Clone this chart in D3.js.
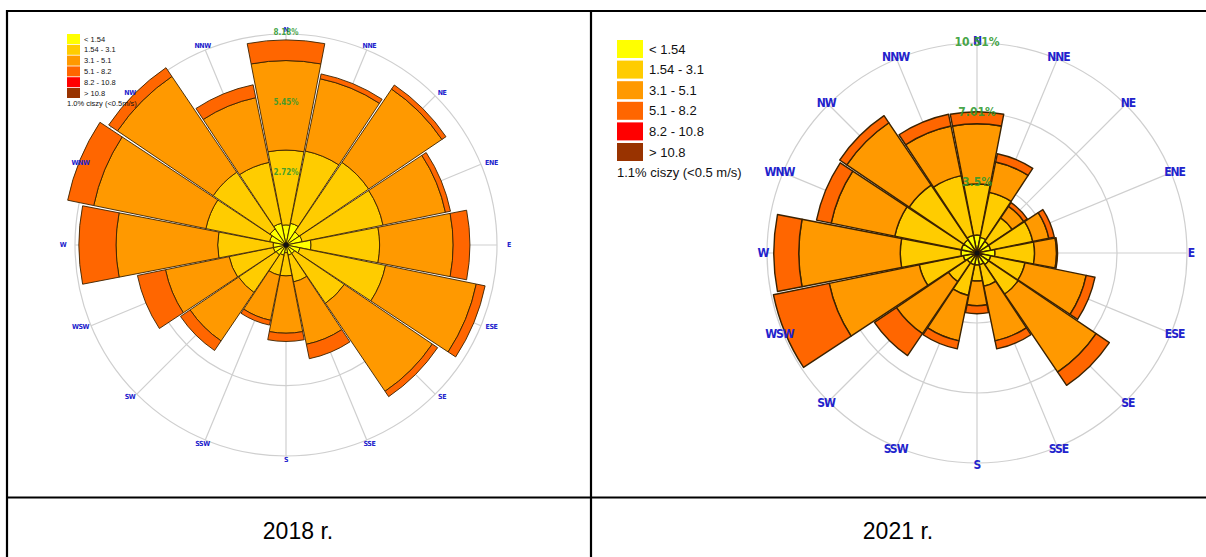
<!DOCTYPE html>
<html>
<head>
<meta charset="utf-8">
<script src="https://cdn.jsdelivr.net/npm/d3@7"></script>
<style>
  body { margin: 0; background: #fff; }
  svg { display: block; }
</style>
</head>
<body>
<svg id="chart" width="1206" height="557"></svg>
<script>
// Wind directions, clockwise from north
const directions = ["N","NNE","NE","ENE","E","ESE","SE","SSE","S","SSW","SW","WSW","W","WNW","NW","NNW"];
// Wind speed classes [m/s]
const speedClasses = ["< 1.54","1.54 - 3.1","3.1 - 5.1","5.1 - 8.2","8.2 - 10.8","> 10.8"];
const classColors = ["#ffff00","#ffcc00","#ff9900","#ff6600","#ff0000","#993300"];

// 2018 — frequency [%] of each speed class per direction
const y2018_lt154  = [0.78,0.86,0.61,0.64,0.97,0.55,0.40,0.40,0.30,0.40,0.46,0.50,0.50,0.65,0.75,0.86];
const y2018_154_31 = [2.90,2.86,3.26,3.20,2.66,3.39,2.33,1.06,0.90,0.80,1.76,1.75,2.15,2.52,2.66,2.41];
const y2018_31_51  = [3.47,2.86,3.43,2.47,2.85,3.59,4.12,2.47,2.22,1.78,2.27,2.52,3.94,4.44,4.48,2.56];
const y2018_51_82  = [0.80,0.19,0.19,0.20,0.65,0.35,0.25,0.57,0.32,0.19,0.45,1.11,1.44,1.03,0.41,0.51];
const y2018_82_108 = [0,0,0,0,0,0,0,0,0,0,0,0,0,0,0,0];
const y2018_gt108  = [0,0,0,0,0,0,0,0,0,0,0,0,0,0,0,0];
const ringValues2018 = [2.727, 5.453, 8.18];
const ringLabels2018 = ["2.72%","5.45%","8.18%"];
const calmLabel2018 = "1.0% ciszy (<0.5m/s)";

// 2021 — frequency [%] of each speed class per direction
const y2021_lt154  = [0.90,0.80,0.70,0.70,0.90,0.70,0.70,0.60,0.60,0.60,0.60,0.70,0.80,0.80,0.80,0.90];
const y2021_154_31 = [2.55,2.30,1.42,2.15,1.98,1.75,1.78,1.10,0.80,1.57,1.13,2.25,3.04,3.40,3.30,3.05];
const y2021_31_51  = [3.02,1.55,0.70,0.82,1.10,3.13,4.72,2.79,1.24,2.32,3.14,4.60,5.08,3.25,3.77,2.54];
const y2021_51_82  = [0.60,0.42,0.22,0.28,0.05,0.45,0.80,0.41,0.40,0.41,1.33,2.85,1.25,0.75,0.43,0.60];
const y2021_82_108 = [0,0,0,0,0,0,0,0,0,0,0,0,0,0,0,0];
const y2021_gt108  = [0,0,0,0,0,0,0,0,0,0,0,0,0,0,0,0];
const ringValues2021 = [3.503, 7.006, 10.51];
const ringLabels2021 = ["3.5%","7.01%","10.51%"];
const calmLabel2021 = "1.1% ciszy (<0.5 m/s)";

const yearLabels = ["2018 r.","2021 r."];

const svg = d3.select("#chart");
svg.append("rect").attr("width",1206).attr("height",557).attr("fill","#fff");

// ---- table frame ----
const frame = svg.append("g").attr("stroke","#000").attr("stroke-width",2.2);
frame.append("line").attr("x1",7).attr("x2",1210).attr("y1",11).attr("y2",11);
frame.append("line").attr("x1",7).attr("x2",7).attr("y1",10).attr("y2",560);
frame.append("line").attr("x1",591).attr("x2",591).attr("y1",10).attr("y2",560);
frame.append("line").attr("x1",7).attr("x2",1210).attr("y1",497.5).attr("y2",497.5);

svg.selectAll("text.year").data(yearLabels).join("text")
  .attr("class","year")
  .attr("x",(d,i)=> i===0 ? 298 : 898)
  .attr("y",531)
  .attr("text-anchor","middle")
  .attr("dominant-baseline","central")
  .attr("font-family","Liberation Sans, Arial, sans-serif")
  .attr("font-size",23)
  .attr("fill","#000")
  .text(d=>d);

function buildTable(cols){
  return directions.map((dir,i)=>{
    const row = {dir};
    speedClasses.forEach((c,k)=>{ row[c] = cols[k][i]; });
    return row;
  });
}

function drawRose(cfg){
  const g = svg.append("g").attr("transform",`translate(${cfg.cx},${cfg.cy})`);
  const rMax = cfg.rings[cfg.rings.length-1];
  const r = d3.scaleLinear().domain([0, rMax]).range([0, cfg.R]);
  const step = 2*Math.PI/directions.length;
  const ang = d3.scaleBand().domain(directions).range([-step/2, 2*Math.PI - step/2]);
  const mid = d => ang(d) + step/2;
  const gap = cfg.gap;

  // grid: rings and spokes
  g.append("g").selectAll("circle").data(cfg.rings).join("circle")
    .attr("r", d=>r(d)).attr("fill","none").attr("stroke","#cfcfcf").attr("stroke-width",1.2);
  g.append("g").selectAll("line").data(directions).join("line")
    .attr("x1",0).attr("y1",0)
    .attr("x2",d=> cfg.R*Math.sin(mid(d)))
    .attr("y2",d=> -cfg.R*Math.cos(mid(d)))
    .attr("stroke","#cfcfcf").attr("stroke-width",1.2);

  // stacked wedges
  const table = buildTable(cfg.cols);
  const series = d3.stack().keys(speedClasses)(table);
  const arc = d3.arc();
  series.forEach((s,k)=>{
    g.append("g").selectAll("path").data(s.filter(d=> d[1]-d[0] > 0)).join("path")
      .attr("d", d=> arc({
        innerRadius: r(d[0]), outerRadius: r(d[1]),
        startAngle: ang(d.data.dir)+gap, endAngle: ang(d.data.dir)+step-gap
      }))
      .attr("fill", classColors[k])
      .attr("stroke","#3b2200").attr("stroke-width",cfg.stroke).attr("stroke-linejoin","round");
  });
  g.append("circle").attr("r",2.5).attr("fill","#111");

  // direction labels
  g.append("g").selectAll("text").data(directions).join("text")
    .attr("x",d=> (cfg.labelR + cfg.labelDx*Math.abs(Math.sin(mid(d))))*Math.sin(mid(d)))
    .attr("y",d=> -cfg.labelR*Math.cos(mid(d)))
    .attr("text-anchor","middle").attr("dominant-baseline","central")
    .attr("font-family","DejaVu Sans Condensed, DejaVu Sans, sans-serif")
    .attr("font-weight","bold").attr("font-size",cfg.dirFont)
    .attr("letter-spacing",cfg.dirSpacing)
    .attr("fill","#2222cc").text(d=>d);

  // ring labels along the north axis
  g.append("g").selectAll("text").data(cfg.rings).join("text")
    .attr("x",0).attr("y",d=> -r(d)+cfg.ringDy)
    .attr("text-anchor","middle").attr("dominant-baseline","central")
    .attr("font-family","DejaVu Sans Condensed, DejaVu Sans, sans-serif")
    .attr("font-weight","bold").attr("font-size",cfg.ringFont)
    .attr("fill","#2f9a2f").attr("fill-opacity",0.9)
    .text((d,i)=>cfg.ringLabels[i]);

  // legend
  const lg = svg.append("g").attr("transform",`translate(${cfg.lx},${cfg.ly})`);
  lg.selectAll("rect").data(speedClasses).join("rect")
    .attr("x",0).attr("y",(d,i)=> i*cfg.lstep)
    .attr("width",cfg.sw).attr("height",cfg.sh)
    .attr("fill",(d,i)=>classColors[i]);
  lg.selectAll("text.cls").data(speedClasses).join("text").attr("class","cls")
    .attr("x",cfg.sw+cfg.tx).attr("y",(d,i)=> i*cfg.lstep + cfg.sh/2)
    .attr("dominant-baseline","central")
    .attr("font-family","Liberation Sans, Arial, sans-serif")
    .attr("font-size",cfg.lfont).attr("fill","#111")
    .text(d=>d);
  lg.append("text")
    .attr("x",0).attr("y",6*cfg.lstep + cfg.sh/2)
    .attr("dominant-baseline","central")
    .attr("font-family","Liberation Sans, Arial, sans-serif")
    .attr("font-size",cfg.lfont).attr("fill","#111")
    .text(cfg.calm);
}

drawRose({
  cx:286, cy:245, R:211, rings:ringValues2018, ringLabels:ringLabels2018,
  cols:[y2018_lt154,y2018_154_31,y2018_31_51,y2018_51_82,y2018_82_108,y2018_gt108],
  gap:0.006, stroke:0.9, labelR:215, labelDx:8, dirFont:7, dirSpacing:-0.4, ringFont:8, ringDy:-2,
  lx:67, ly:34, lstep:10.8, sw:13, sh:10, tx:4, lfont:7.5, calm:calmLabel2018
});
drawRose({
  cx:977, cy:253, R:210, rings:ringValues2021, ringLabels:ringLabels2021,
  cols:[y2021_lt154,y2021_154_31,y2021_31_51,y2021_51_82,y2021_82_108,y2021_gt108],
  gap:0.006, stroke:1.4, labelR:212, labelDx:2, dirFont:12, dirSpacing:-1, ringFont:12, ringDy:-1,
  lx:617, ly:40, lstep:20.6, sw:26, sh:18, tx:6, lfont:13, calm:calmLabel2021
});
</script>
</body>
</html>
